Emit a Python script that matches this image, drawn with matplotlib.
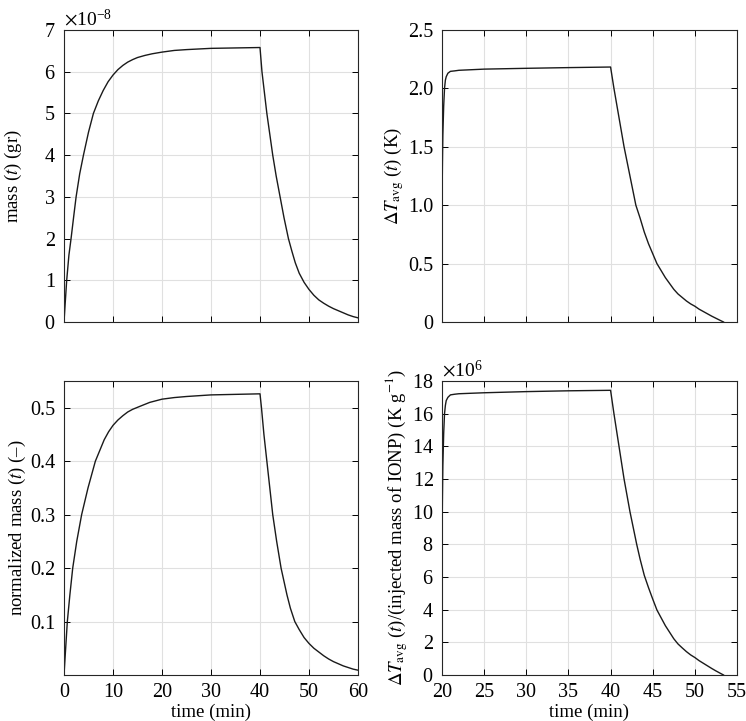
import matplotlib
matplotlib.use('Agg')
import matplotlib.pyplot as plt
from matplotlib.ticker import ScalarFormatter

plt.rcParams['font.family'] = ['Liberation Serif', 'DejaVu Serif']
plt.rcParams['mathtext.fontset'] = 'stix'
plt.rcParams['font.size'] = 13.5

# mass of IONP over time (gr)
t_mass = [0, 0.2, 0.55, 1.0, 1.44, 2.0, 2.47, 3.2, 3.97, 5.0, 6.0, 7.0, 8.0, 9.0, 10.0,
          11.0, 12.0, 13.0, 14.0, 15.0, 16.5, 18.0, 20.0, 22.5, 25.0, 30.0, 35.0, 40.0,
          40.4, 40.9, 41.4, 42.0, 42.6, 43.3, 44.1, 44.9, 45.8, 46.5, 47.2, 48.0, 49.0,
          50.0, 51.0, 52.0, 53.0, 54.0, 55.0, 56.0, 57.0, 58.0, 59.0, 60.0]
mass = [0, 0.37e-8, 1.0e-8, 1.6e-8, 2.0e-8, 2.55e-8, 3.0e-8, 3.55e-8, 4.0e-8, 4.55e-8,
        5.0e-8, 5.3e-8, 5.55e-8, 5.76e-8, 5.92e-8, 6.05e-8, 6.15e-8, 6.23e-8, 6.29e-8,
        6.34e-8, 6.39e-8, 6.43e-8, 6.47e-8, 6.51e-8, 6.53e-8, 6.56e-8, 6.57e-8, 6.58e-8,
        6.0e-8, 5.5e-8, 5.0e-8, 4.5e-8, 4.0e-8, 3.5e-8, 3.0e-8, 2.5e-8, 2.0e-8, 1.7e-8,
        1.42e-8, 1.17e-8, 0.95e-8, 0.78e-8, 0.64e-8, 0.53e-8, 0.45e-8, 0.38e-8, 0.32e-8,
        0.27e-8, 0.22e-8, 0.17e-8, 0.13e-8, 0.1e-8]

# normalized mass over time (-)
t_norm = [0, 0.25, 0.68, 1.2, 1.78, 2.6, 3.6, 4.9, 6.4, 7.3, 8.2, 9.1, 10.0, 11.0, 12.0,
          13.0, 14.0, 15.6, 17.5, 20.0, 22.5, 25.0, 30.0, 35.0, 40.0, 40.3, 40.8, 41.4,
          42.0, 42.6, 43.4, 44.3, 45.5, 46.2, 47.1, 48.0, 49.0, 50.0, 51.0, 52.0, 53.0,
          54.0, 55.0, 56.0, 57.0, 58.0, 59.0, 60.0]
norm_mass = [0, 0.037, 0.1, 0.15, 0.2, 0.25, 0.3, 0.35, 0.4, 0.42, 0.44, 0.455, 0.467,
             0.477, 0.485, 0.492, 0.497, 0.503, 0.51, 0.516, 0.519, 0.521, 0.524, 0.525,
             0.526, 0.5, 0.45, 0.4, 0.35, 0.3, 0.25, 0.2, 0.15, 0.125, 0.1, 0.085, 0.07,
             0.059, 0.05, 0.043, 0.036, 0.03, 0.025, 0.021, 0.017, 0.014, 0.011, 0.009]

# average temperature rise (K)
t_dT = [20.0, 20.05, 20.1, 20.2, 20.3, 20.4, 20.5, 20.7, 21.0, 21.5, 22.0, 25.0, 30.0,
        35.0, 40.0, 40.4, 41.0, 41.6, 42.3, 43.0, 43.5, 44.0, 44.5, 45.0, 45.5, 46.0,
        46.5, 47.0, 47.5, 48.0, 48.5, 49.0, 49.5, 50.0, 50.5, 51.0, 51.5, 52.0, 52.5,
        53.0, 53.4]
dT = [1.0, 1.35, 1.6, 1.85, 2.0, 2.07, 2.1, 2.13, 2.146, 2.15, 2.155, 2.165, 2.172,
      2.178, 2.183, 2.0, 1.75, 1.5, 1.25, 1.0, 0.89, 0.77, 0.67, 0.585, 0.5, 0.44,
      0.38, 0.33, 0.28, 0.24, 0.21, 0.18, 0.155, 0.135, 0.11, 0.09, 0.07, 0.05, 0.032,
      0.014, 0.0]

# temperature rise per injected mass (K g^-1)
t_dTm = [20.0, 20.05, 20.1, 20.2, 20.3, 20.4, 20.5, 20.7, 21.0, 21.5, 22.0, 25.0, 30.0,
         35.0, 40.0, 40.4, 41.0, 41.6, 42.3, 43.1, 43.5, 44.0, 44.5, 45.0, 45.5, 46.0,
         46.5, 47.0, 47.5, 48.0, 48.5, 49.0, 49.5, 50.0, 50.5, 51.0, 51.5, 52.0, 52.5,
         53.0, 53.4]
dT_per_mass = [8.0e6, 10.8e6, 12.8e6, 14.8e6, 16.0e6, 16.5e6, 16.8e6, 17.0e6, 17.15e6,
               17.19e6, 17.22e6, 17.28e6, 17.35e6, 17.40e6, 17.43e6, 16.0e6, 14.0e6,
               12.0e6, 10.0e6, 8.0e6, 7.1e6, 6.1e6, 5.35e6, 4.65e6, 3.98e6, 3.5e6, 3.02e6,
               2.62e6, 2.22e6, 1.9e6, 1.66e6, 1.43e6, 1.23e6, 1.07e6, 0.88e6, 0.72e6,
               0.56e6, 0.4e6, 0.25e6, 0.11e6, 0.0]


def style(ax):
    ax.grid(True, color='#e0e0e0', linewidth=0.8)
    ax.set_axisbelow(True)
    ax.tick_params(direction='in', top=True, right=True, length=4, width=0.7,
                   labelsize=14.5, pad=6)
    ax.yaxis.get_offset_text().set_fontsize(14)
    for s in ax.spines.values():
        s.set_linewidth(0.8)
        s.set_color('#262626')


fig = plt.figure(figsize=(7.46, 7.21), dpi=100)
W, H = 746, 721
ax1 = fig.add_axes([64 / W, (H - 322) / H, 294 / W, 292 / H])
ax2 = fig.add_axes([442 / W, (H - 322) / H, 295 / W, 292 / H])
ax3 = fig.add_axes([64 / W, (H - 675) / H, 294 / W, 294 / H])
ax4 = fig.add_axes([442 / W, (H - 675) / H, 295 / W, 294 / H])

# top left
ax1.plot(t_mass, mass, color='#1a1a1a', linewidth=1.0)
ax1.set_xlim(0, 60)
ax1.set_ylim(0, 7e-8)
ax1.set_xticks(range(0, 61, 10))
ax1.set_xticklabels([])
fmt = ScalarFormatter(useMathText=True)
fmt.set_powerlimits((-8, -8))
ax1.yaxis.set_major_formatter(fmt)
ax1.set_ylabel('mass ($t$) (gr)', labelpad=14)
style(ax1)

# top right
ax2.plot(t_dT, dT, color='#1a1a1a', linewidth=1.0)
ax2.set_xlim(20, 55)
ax2.set_ylim(0, 2.5)
ax2.set_xticks(range(20, 56, 5))
ax2.set_xticklabels([])
ax2.set_yticks([0, 0.5, 1.0, 1.5, 2.0, 2.5])
ax2.set_yticklabels(['0', '0.5', '1.0', '1.5', '2.0', '2.5'])
ax2.set_ylabel(r'$\Delta T_{\rm avg}$ ($t$) (K)', labelpad=2)
style(ax2)

# bottom left
ax3.plot(t_norm, norm_mass, color='#1a1a1a', linewidth=1.0)
ax3.set_xlim(0, 60)
ax3.set_ylim(0, 0.55)
ax3.set_xticks(range(0, 61, 10))
ax3.set_yticks([0.1, 0.2, 0.3, 0.4, 0.5])
ax3.set_yticklabels(['0.1', '0.2', '0.3', '0.4', '0.5'])
ax3.set_xlabel('time (min)', labelpad=1)
ax3.set_ylabel('normalized mass ($t$) (\u2013)', labelpad=2)
style(ax3)

# bottom right
ax4.plot(t_dTm, dT_per_mass, color='#1a1a1a', linewidth=1.0)
ax4.set_xlim(20, 55)
ax4.set_ylim(0, 18e6)
ax4.set_xticks(range(20, 56, 5))
ax4.set_yticks([i * 1e6 for i in range(0, 19, 2)])
fmt2 = ScalarFormatter(useMathText=True)
fmt2.set_powerlimits((6, 6))
ax4.yaxis.set_major_formatter(fmt2)
ax4.set_xlabel('time (min)', labelpad=1)
ax4.set_ylabel(r'$\Delta T_{\rm avg}$ ($t$)/(injected mass of IONP) (K g$^{-1}$)', labelpad=1)
style(ax4)

fig.savefig('out.png', dpi=100)
